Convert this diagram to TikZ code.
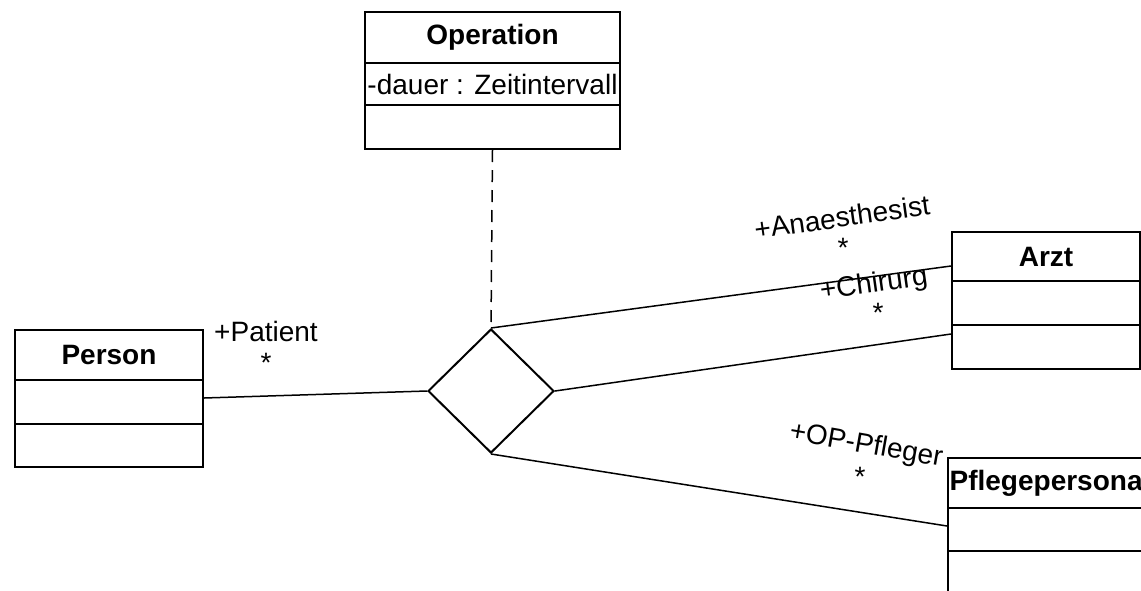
\documentclass[tikz,border=0pt]{standalone}
\usepackage{fontspec}
\setmainfont{Liberation Sans}
\usetikzlibrary{shapes.geometric}
\tikzset{
  comp/.style={draw, line width=2pt, inner sep=0pt, anchor=north west, font=\fontsize{28}{32}\selectfont},
  hdr/.style={comp, font=\fontsize{28}{32}\selectfont\bfseries},
  assoc/.style={line width=1.5pt},
  lbl/.style={inner sep=0pt, font=\fontsize{28}{32}\selectfont},
}
\begin{document}
\begin{tikzpicture}[x=1pt,y=-1pt]
\useasboundingbox (0,0) rectangle (1141,590);
\clip (0,0) rectangle (1141,590);
% Operation
\node[hdr, minimum width=255pt, minimum height=51pt] (ohdr) at (364,11) {Operation};
\node[comp, minimum width=255pt, minimum height=42pt] (oattr) at (364,62) {-dauer : Zeitintervall};
\node[comp, minimum width=255pt, minimum height=44pt] (oop) at (364,104) {};
% Person
\node[hdr, minimum width=188pt, minimum height=50pt] (phdr) at (14,329) {Person};
\node[comp, minimum width=188pt, minimum height=44pt] (pattr) at (14,379) {};
\node[comp, minimum width=188pt, minimum height=43pt] (pop) at (14,423) {};
% Arzt
\node[hdr, minimum width=188pt, minimum height=49pt] (ahdr) at (951,231) {Arzt};
\node[comp, minimum width=188pt, minimum height=44pt] (aattr) at (951,280) {};
\node[comp, minimum width=188pt, minimum height=44pt] (aop) at (951,324) {};
% Pflegepersonal
\node[hdr, minimum width=204pt, minimum height=50pt] (fhdr) at (947,457) {Pflegepersonal};
\node[comp, minimum width=204pt, minimum height=43pt] (fattr) at (947,507) {};
\node[comp, minimum width=204pt, minimum height=45pt] (fop) at (947,550) {};
% Diamond
\node[draw, diamond, line width=2pt, inner sep=0pt, minimum width=126pt, minimum height=124pt] (dia) at (491,391) {};
% Connectors
\draw[assoc, dash pattern=on 12pt off 8pt] (oop.south) -- (dia.north);
\draw[assoc] ([yshift=4pt]pattr.east) -- (dia.west);
\draw[assoc] (dia.north) -- ([yshift=-9.5pt]ahdr.west);
\draw[assoc] (dia.east) -- ([yshift=13pt]aop.west);
\draw[assoc] (dia.south) -- ([yshift=3.5pt]fattr.west);
% Labels
\node[lbl] (lpat) at (266,331) {+Patient};
\node[lbl] (mpat) at (266,363) {*};
\node[lbl, rotate=8] (lana) at (842,217) {+Anaesthesist};
\node[lbl] (mana) at (843,248) {*};
\node[lbl, rotate=8] (lchi) at (874,285) {+Chirurg};
\node[lbl] (mchi) at (878,313) {*};
\node[lbl, rotate=-10] (lop) at (866,446) {+OP-Pfleger};
\node[lbl] (mop) at (860,477) {*};
\end{tikzpicture}
\end{document}
